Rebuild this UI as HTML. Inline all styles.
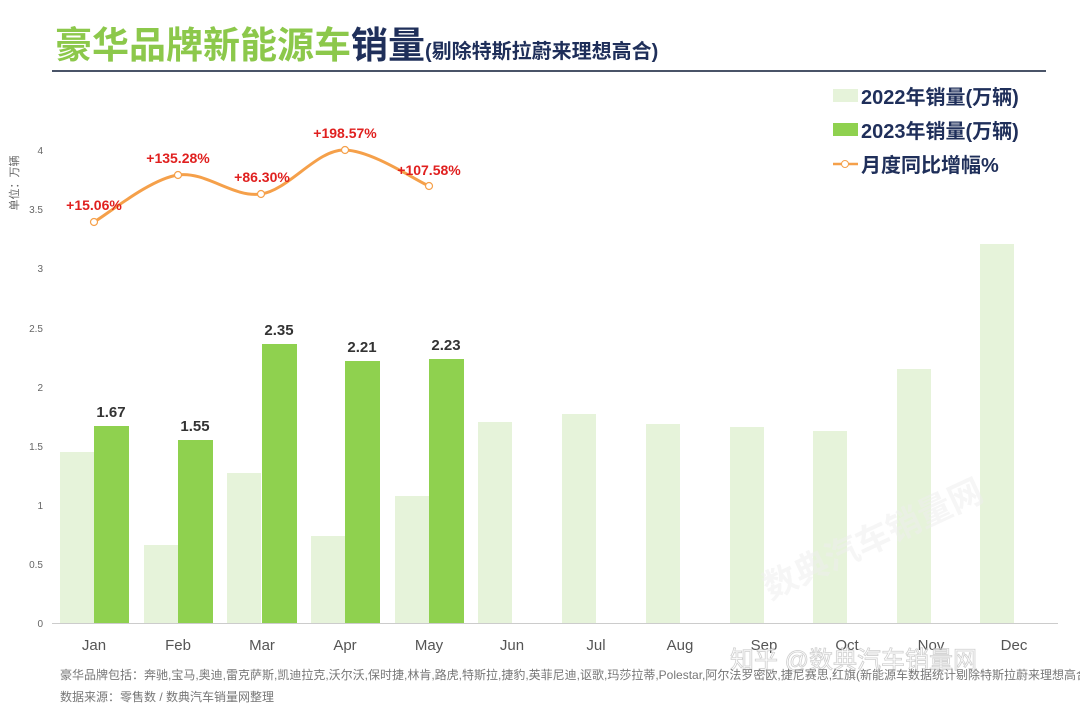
<!DOCTYPE html>
<html><head><meta charset="utf-8"><style>
html,body{margin:0;padding:0;background:#fff;}
body{width:1080px;height:707px;position:relative;overflow:hidden;font-family:"Liberation Sans","Noto Sans CJK SC",sans-serif;}
</style></head><body>
<svg width="1080" height="707" viewBox="0 0 1080 707" xmlns="http://www.w3.org/2000/svg" style="position:absolute;left:0;top:0">
<g font-family="'Liberation Sans','Noto Sans CJK SC',sans-serif">
<text x="55" y="58" font-size="37" font-weight="bold" fill="#8cc84b">豪华品牌新能源车<tspan fill="#1f2f5a">销量</tspan><tspan font-size="20" fill="#1f2f5a">(剔除特斯拉蔚来理想高合)</tspan></text>
<rect x="52" y="70" width="994" height="2" fill="#4a5468"/>

<g font-size="10" fill="#666" text-anchor="end">
<text x="43" y="627">0</text><text x="43" y="568">0.5</text><text x="43" y="509">1</text>
<text x="43" y="450">1.5</text><text x="43" y="391">2</text><text x="43" y="332">2.5</text>
<text x="43" y="272">3</text><text x="43" y="213">3.5</text><text x="43" y="154">4</text>
</g>
<text transform="translate(18,183) rotate(-90)" font-size="11" fill="#666" text-anchor="middle">单位：万辆</text>

<g fill="#e6f3da">
<rect x="60" y="452" width="34" height="171"/>
<rect x="144" y="545" width="34" height="78"/>
<rect x="227" y="473" width="34" height="150"/>
<rect x="311" y="536" width="34" height="87"/>
<rect x="395" y="496" width="34" height="127"/>
<rect x="478" y="422" width="34" height="201"/>
<rect x="562" y="414" width="34" height="209"/>
<rect x="646" y="424" width="34" height="199"/>
<rect x="730" y="427" width="34" height="196"/>
<rect x="813" y="431" width="34" height="192"/>
<rect x="897" y="369" width="34" height="254"/>
<rect x="980" y="244" width="34" height="379"/>
</g>
<g fill="#8fd14f">
<rect x="94" y="426" width="35" height="197"/>
<rect x="178" y="440" width="35" height="183"/>
<rect x="262" y="344" width="35" height="279"/>
<rect x="345" y="361" width="35" height="262"/>
<rect x="429" y="359" width="35" height="264"/>
</g>
<g font-size="15" font-weight="bold" fill="#333" text-anchor="middle">
<text x="111" y="417">1.67</text><text x="195" y="431">1.55</text><text x="279" y="335">2.35</text>
<text x="362" y="352">2.21</text><text x="446" y="350">2.23</text>
</g>
<rect x="52" y="623" width="1006" height="1" fill="#ccc"/>
<g font-size="15" fill="#555" text-anchor="middle">
<text x="94" y="650">Jan</text><text x="178" y="650">Feb</text><text x="262" y="650">Mar</text>
<text x="345" y="650">Apr</text><text x="429" y="650">May</text><text x="512" y="650">Jun</text>
<text x="596" y="650">Jul</text><text x="680" y="650">Aug</text><text x="764" y="650">Sep</text>
<text x="847" y="650">Oct</text><text x="931" y="650">Nov</text><text x="1014" y="650">Dec</text>
</g>

<path d="M94,222 C108,214 150,179 178,175 C206,171 233,198 261,194 C289,190 317,149 345,150 C373,151 415,180 429,186" fill="none" stroke="#f5a04a" stroke-width="3"/>
<g fill="#fff" stroke="#f5a04a" stroke-width="1.2">
<circle cx="94" cy="222" r="3.5"/><circle cx="178" cy="175" r="3.5"/><circle cx="261" cy="194" r="3.5"/>
<circle cx="345" cy="150" r="3.5"/><circle cx="429" cy="186" r="3.5"/>
</g>
<g font-size="14" font-weight="bold" fill="#e0201f" text-anchor="middle">
<text x="94" y="210">+15.06%</text><text x="178" y="163">+135.28%</text><text x="262" y="182">+86.30%</text>
<text x="345" y="138">+198.57%</text><text x="429" y="175">+107.58%</text>
</g>

<rect x="833" y="89" width="25" height="13" fill="#e6f3da"/>
<rect x="833" y="123" width="25" height="13" fill="#8fd14f"/>
<line x1="833" y1="164" x2="858" y2="164" stroke="#f5a04a" stroke-width="2.5"/>
<circle cx="845" cy="164" r="3.5" fill="#fff" stroke="#f5a04a"/>
<g font-size="20" font-weight="bold" fill="#1f2f5a">
<text x="861" y="104">2022年销量(万辆)</text>
<text x="861" y="138">2023年销量(万辆)</text>
<text x="861" y="172">月度同比增幅%</text>
</g>

<text x="730" y="668" font-size="24" fill="#ffffff" stroke="#bbb" stroke-width="0.8" opacity="0.7">知乎 @数典汽车销量网</text>
<text transform="translate(770,600) rotate(-25)" font-size="34" font-weight="bold" fill="#eee" opacity="0.5">数典汽车销量网</text>

<g font-size="12" fill="#777">
<text x="60" y="679">豪华品牌包括：奔驰,宝马,奥迪,雷克萨斯,凯迪拉克,沃尔沃,保时捷,林肯,路虎,特斯拉,捷豹,英菲尼迪,讴歌,玛莎拉蒂,Polestar,阿尔法罗密欧,捷尼赛思,红旗(新能源车数据统计剔除特斯拉蔚来理想高合)</text>
<text x="60" y="701">数据来源：零售数 / 数典汽车销量网整理</text>
</g>
</g>
</svg>
</body></html>
